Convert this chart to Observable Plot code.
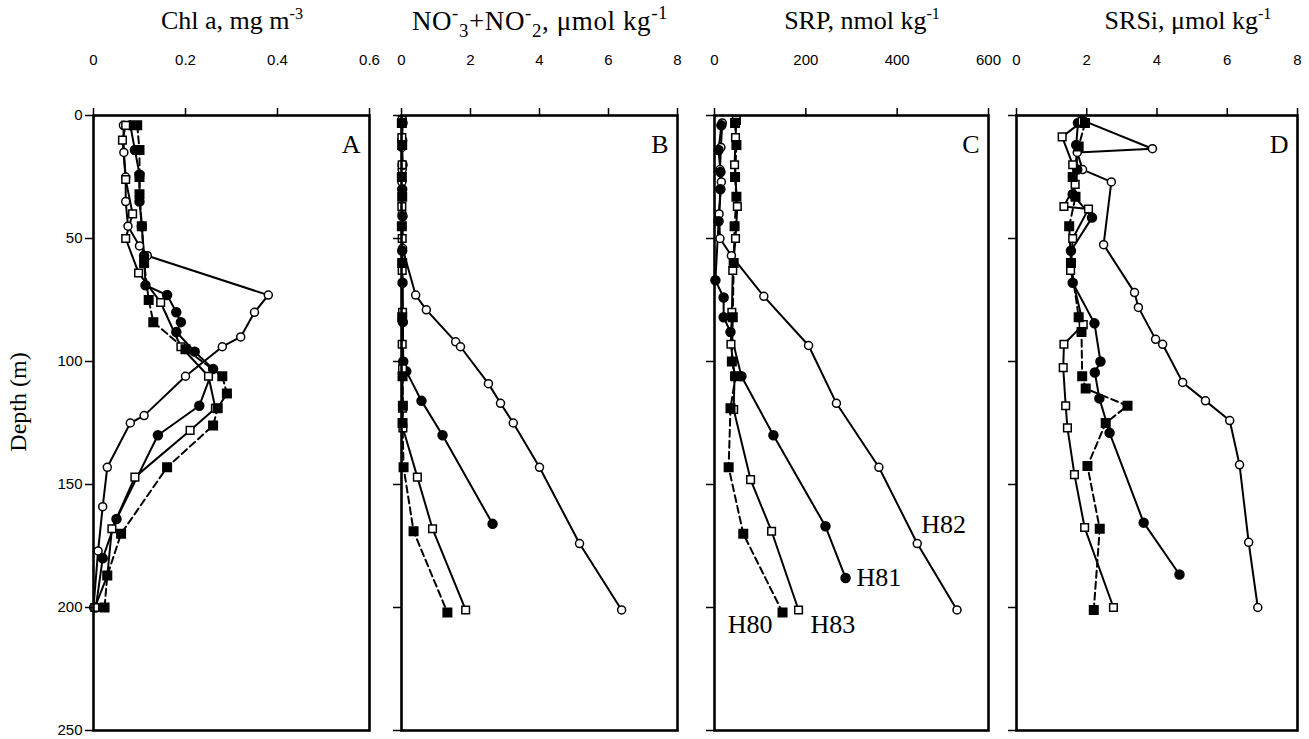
<!DOCTYPE html>
<html>
<head>
<meta charset="utf-8">
<script src="https://cdn.jsdelivr.net/npm/d3@7"></script>
<script src="https://cdn.jsdelivr.net/npm/@observablehq/plot@0.6"></script>
<style>
  body { margin: 0; background: #fff; }
  #wrap { position: relative; width: 1309px; height: 739px; overflow: hidden; background: #fff; }
  .title { position: absolute; top: 6px; font-family: "Liberation Serif", "Times New Roman", serif; font-size: 26px; white-space: nowrap; transform: translateX(-50%); color: #000; }
  .title sup, .title sub { font-size: 0.62em; position: relative; vertical-align: baseline; line-height: 0; }
  .title sup { top: -0.6em; }
  .title sub { top: 0.35em; }
  .title.wide { font-size: 27px; letter-spacing: 0.6px; }
  .title.wide sup, .title.wide sub { font-size: 0.7em; }
  .panel { position: absolute; top: 0; }
  .panel svg { overflow: visible; }
  #ylab { position: absolute; left: 18px; top: 402px; transform: translate(-50%, -50%) rotate(-90deg); font-family: "Liberation Serif", "Times New Roman", serif; font-size: 24px; white-space: nowrap; }
</style>
</head>
<body>
<div id="wrap">
  <div class="title" style="left:232px">Chl a, mg m<sup>-3</sup></div>
  <div class="title wide" style="left:540px">NO<sup>-</sup><sub>3</sub>+NO<sup>-</sup><sub>2</sub>, μmol kg<sup>-1</sup></div>
  <div class="title" style="left:862px">SRP, nmol kg<sup>-1</sup></div>
  <div class="title" style="left:1188px">SRSi, μmol kg<sup>-1</sup></div>
  <div id="ylab">Depth (m)</div>
</div>
<script>
// ---------- DATA: [depth (m), value] ----------
// Panel A: Chl a (mg m-3)
const chlH80 = [[4,0.095],[14,0.1],[25,0.1],[32,0.1],[45,0.105],[60,0.11],[75,0.12],[84,0.13],[95,0.2],[106,0.28],[113,0.29],[119,0.27],[126,0.26],[143,0.16],[170,0.06],[187,0.03],[200,0.024]];
const chlH81 = [[4,0.08],[14,0.09],[24,0.1],[35,0.1],[45,0.105],[57,0.11],[69,0.113],[73,0.16],[80,0.18],[84,0.19],[88,0.18],[96,0.22],[103,0.26],[118,0.23],[130,0.14],[164,0.05],[180,0.02],[200,0.005]];
const chlH82 = [[4,0.065],[15,0.066],[25,0.07],[35,0.07],[45,0.075],[53,0.1],[57,0.117],[73,0.38],[80,0.35],[90,0.32],[94,0.28],[106,0.2],[122,0.11],[125,0.08],[143,0.03],[159,0.02],[177,0.01],[200,0.0]];
const chlH83 = [[4,0.07],[10,0.063],[26,0.07],[40,0.085],[50,0.07],[64,0.098],[76,0.146],[94,0.19],[106,0.25],[119,0.265],[128,0.21],[147,0.09],[168,0.04],[187,0.03],[200,0.003]];
// Panel B: NO3+NO2 (umol kg-1)
const no3H80 = [[3,0.01],[12,0.02],[25,0.01],[33,0.02],[45,0.01],[60,0.02],[82,0.02],[106,0.03],[118,0.04],[125,0.03],[143,0.06],[169,0.35],[202,1.33]];
const no3H81 = [[3,0.03],[10,0.02],[20,0.03],[30,0.02],[41,0.03],[55,0.02],[68,0.03],[84,0.04],[100,0.05],[104,0.14],[116,0.58],[130,1.19],[166,2.64]];
const no3H82 = [[2,0.02],[13,0.01],[22,0.02],[27,0.01],[40,0.02],[54,0.03],[73,0.41],[79,0.72],[92,1.57],[94,1.71],[109,2.52],[117,2.87],[125,3.24],[143,4.0],[174,5.16],[201,6.38]];
const no3H83 = [[2,0.02],[9,0.01],[20,0.02],[37,0.01],[50,0.02],[63,0.02],[80,0.03],[93,0.02],[103,0.03],[119,0.03],[127,0.04],[147,0.46],[168,0.9],[201,1.86]];
// Panel C: SRP (nmol kg-1)
const srpH80 = [[3,45],[12,48],[25,45],[33,48],[45,44],[60,42],[82,40],[100,38],[106,46],[119,35],[143,31],[170,63],[202,149]];
const srpH81 = [[4,15],[14,9],[23,13],[30,13],[43,9],[67,2],[74,20],[82,20],[88,35],[106,59],[130,129],[167,243],[188,287]];
const srpH82 = [[3,17],[13,14],[22,12],[27,15],[40,10],[50,12],[57,37],[73.5,108],[93.5,206],[117,267],[143,360],[174,444],[201,531]];
const srpH83 = [[2,48],[9,46],[20,44],[37,50],[50,46],[63,40],[80,38],[93,36],[106,44],[119.5,42],[148,79],[169,125],[201,184]];
// Panel D: SRSi (umol kg-1)
const siH80 = [[3,1.95],[12.6,1.77],[25,1.6],[33,1.68],[45,1.5],[60,1.55],[82,1.77],[88,1.85],[106,1.87],[111,1.97],[118,3.16],[125,2.54],[142.5,2.02],[168,2.37],[201,2.2]];
const siH81 = [[3,1.75],[12,1.7],[22,1.73],[32,1.6],[41.5,2.15],[55,1.55],[68,1.6],[84.5,2.22],[100,2.39],[104.5,2.23],[115,2.36],[129,2.65],[165.5,3.62],[186.6,4.64]];
const siH82 = [[2,1.88],[13.5,3.87],[15,1.73],[22,1.88],[27,2.7],[52.5,2.48],[72,3.36],[78,3.47],[91,3.96],[93,4.16],[108.5,4.73],[116,5.38],[124,6.07],[142,6.35],[173.5,6.61],[200,6.87]];
const siH83 = [[2.4,1.87],[8.7,1.3],[20,1.6],[28,1.67],[37,1.35],[38,2.05],[50,1.6],[63,1.54],[85,1.9],[93,1.35],[102.5,1.33],[118,1.4],[127,1.45],[146,1.65],[167.5,1.94],[200,2.76]];

const seriesNames = ["H82", "H81", "H83", "H80"];
const depthTicks = [0, 50, 100, 150, 200, 250];
const chlTicks = [0, 0.2, 0.4, 0.6];
const no3Ticks = [0, 2, 4, 6, 8];
const srpTicks = [0, 200, 400, 600];
const siTicks = [0, 2, 4, 6, 8];
const panelLetters = ["A", "B", "C", "D"];

// ---------- STYLE ----------
const style = {
  H80: {symbol: "square", fill: "black", r: 4.8, dash: "7,4"},
  H81: {symbol: "circle", fill: "black", r: 4.5, dash: null},
  H82: {symbol: "circle", fill: "white", r: 4.0, dash: null},
  H83: {symbol: "square", fill: "white", r: 4.3, dash: null}
};

const panels = [
  {left: 0, ml: 93, w: 276, mr: 16, domain: [0, 0.6], ticks: chlTicks, fmt: d => d === 0 ? "0" : d3.format(".1f")(d), showY: true,
   data: {H80: chlH80, H81: chlH81, H82: chlH82, H83: chlH83}},
  {left: 381, ml: 20, w: 276, mr: 16, domain: [0, 8], ticks: no3Ticks, fmt: d => String(d), showY: false,
   data: {H80: no3H80, H81: no3H81, H82: no3H82, H83: no3H83}},
  {left: 694, ml: 20, w: 274, mr: 16, domain: [0, 600], ticks: srpTicks, fmt: d => String(d), showY: false,
   data: {H80: srpH80, H81: srpH81, H82: srpH82, H83: srpH83}, labels: true},
  {left: 996, ml: 20, w: 281, mr: 12, domain: [0, 8], ticks: siTicks, fmt: d => String(d), showY: false,
   data: {H80: siH80, H81: siH81, H82: siH82, H83: siH83}}
];

const wrap = document.getElementById("wrap");
const serif = "'Liberation Serif', 'Times New Roman', serif";

panels.forEach((p, i) => {
  const marks = [];
  for (const s of seriesNames) {
    marks.push(Plot.line(p.data[s], {
      x: d => d[1], y: d => d[0], stroke: "black", strokeWidth: 2,
      strokeDasharray: style[s].dash || undefined
    }));
  }
  for (const s of seriesNames) {
    marks.push(Plot.dot(p.data[s], {
      x: d => d[1], y: d => d[0], symbol: style[s].symbol, r: style[s].r,
      fill: style[s].fill, stroke: "black", strokeWidth: 1.5
    }));
  }
  if (p.labels) {
    const last = arr => [arr[arr.length - 1]];
    const lab = {fontSize: 26, fontFamily: serif};
    marks.push(Plot.text(last(p.data.H80), {x: d => d[1], y: d => d[0], text: () => "H80", textAnchor: "end", dx: -10, dy: 12, ...lab}));
    marks.push(Plot.text(last(p.data.H81), {x: d => d[1], y: d => d[0], text: () => "H81", textAnchor: "start", dx: 11, dy: 0, ...lab}));
    marks.push(Plot.text([p.data.H82[p.data.H82.length - 2]], {x: d => d[1], y: d => d[0], text: () => "H82", textAnchor: "start", dx: 4, dy: -19, ...lab}));
    marks.push(Plot.text(last(p.data.H83), {x: d => d[1], y: d => d[0], text: () => "H83", textAnchor: "start", dx: 12, dy: 15, ...lab}));
  }
  marks.push(Plot.text([panelLetters[i]], {frameAnchor: "top-right", text: d => d, dx: -9, dy: 19, lineAnchor: "top", textAnchor: "end", fontSize: 26, fontFamily: serif}));
  marks.push(Plot.axisX({anchor: "top", ticks: p.ticks, tickFormat: p.fmt, tickSize: 8, tickPadding: 43, fontSize: 15, strokeWidth: 1.5}));
  marks.push(Plot.axisY({anchor: "left", ticks: depthTicks, tickFormat: p.showY ? (d => String(d)) : (() => ""), tickSize: 8, tickPadding: 3, fontSize: 15, strokeWidth: 1.5}));
  marks.push(Plot.frame({stroke: "black", strokeWidth: 2.6}));

  const chart = Plot.plot({
    width: p.ml + p.w + p.mr,
    height: 739,
    marginLeft: p.ml,
    marginRight: p.mr,
    marginTop: 115,
    marginBottom: 9,
    x: {domain: p.domain},
    y: {domain: [0, 250], reverse: true},
    style: {fontFamily: "'Liberation Sans', Arial, sans-serif", fontSize: "15px", color: "black", background: "transparent", overflow: "visible"},
    marks
  });
  const div = document.createElement("div");
  div.className = "panel";
  div.style.left = p.left + "px";
  div.appendChild(chart);
  wrap.appendChild(div);
});
</script>
</body>
</html>
